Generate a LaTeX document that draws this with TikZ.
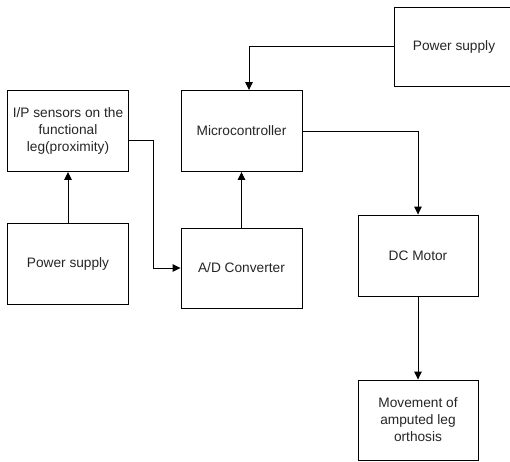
\documentclass[tikz,border=0pt]{standalone}
\usepackage{fontspec}
\setmainfont{Liberation Sans}
\usepackage{tikz}
\usetikzlibrary{arrows.meta, positioning}

\begin{document}
\begin{tikzpicture}[x=1pt, y=-1pt, node distance=135pt]
% Define block styles
\tikzstyle{block} = [rectangle, draw=black, line width=0.9pt, fill=white, text=black!85, align=center, minimum height=81pt, minimum width=121pt, font=\fontsize{13.7}{17}\selectfont]
\tikzstyle{arrow} = [-{Triangle[length=8pt, width=7.5pt]}, line width=0.9pt, draw=black]
\useasboundingbox (0,0) rectangle (510,461);
% Define nodes (input side)
\node[block] (Sensors) at (68,131) {I/P sensors on the\\functional\\leg(proximity)};
\node[block, below of=Sensors, yshift=2.5pt] (PowerLeft) {Power supply};
% Define nodes (control side)
\node[block, right of=Sensors, xshift=38.5pt] (Micro) {Microcontroller};
\node[block, below of=Micro, yshift=-2pt, minimum height=80pt] (ADC) {A/D Converter};
\node[block, right of=Micro, xshift=77.5pt, yshift=84.5pt, minimum width=120pt, minimum height=79pt] (PowerTop) {Power supply};
% Define nodes (output side)
\node[block, right of=ADC, xshift=41.5pt, yshift=12.5pt, minimum width=120pt] (Motor) {DC Motor};
\node[block, below of=Motor, yshift=-29.5pt, minimum width=120pt, minimum height=80pt] (Movement) {Movement of\\amputed leg\\orthosis};
% Relationships (arrows)
\draw[arrow] (PowerTop.west) -| ([xshift=7.5pt]Micro.north);
\draw[arrow] (PowerLeft) -- (Sensors);
\draw[arrow] ([yshift=-9pt]Sensors.east) -- ++(24pt,0) |- (ADC.west);
\draw[arrow] (ADC) -- (Micro);
\draw[arrow] (Micro.east) -| (Motor.north);
\draw[arrow] (Motor) -- (Movement);
\end{tikzpicture}
\end{document}
